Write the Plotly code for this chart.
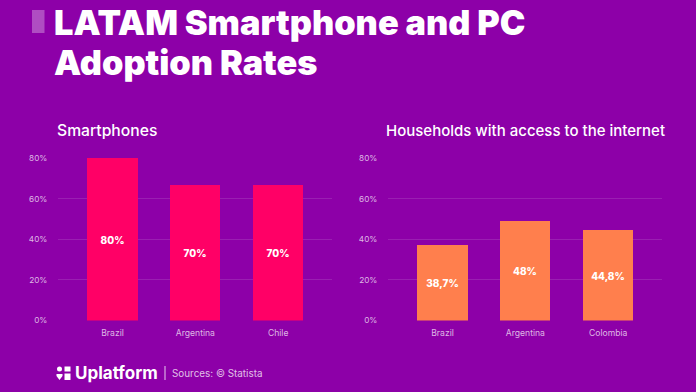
import plotly.graph_objects as go

left_title = "Smartphones"
left_categories = ["Brazil", "Argentina", "Chile"]
left_values = [80, 66.7, 66.7]
left_labels = ["80%", "70%", "70%"]

right_title = "Households with access to the internet"
right_categories = ["Brazil", "Argentina", "Colombia"]
right_values = [37.3, 48.9, 44.6]
right_labels = ["38,7%", "48%", "44,8%"]

y_ticks = [0, 20, 40, 60, 80]
y_tick_labels = ["0%", "20%", "40%", "60%", "80%"]

W, H = 696, 392
BG = "#8D00A8"
FONT = "Inter"
TICK = "rgba(255,255,255,0.72)"
GRID = "rgba(255,255,255,0.12)"
CLEAR = "rgba(0,0,0,0)"

fig = go.Figure()


def add_panel(cats, vals, labels, color, xa, ya):
    fig.add_trace(go.Bar(
        x=list(range(len(cats))), y=vals, text=labels, width=0.604,
        marker=dict(color=color, line=dict(width=0)),
        textposition="inside", insidetextanchor="middle", textangle=0,
        textfont=dict(family=FONT, size=10, color="white", weight=800),
        cliponaxis=False, xaxis=xa, yaxis=ya, showlegend=False,
    ))


add_panel(left_categories, left_values, left_labels, "#FF0066", "x", "y")
add_panel(right_categories, right_values, right_labels, "#FF7F4D", "x2", "y2")


def xaxis(x0, x1, center0, cats):
    step = 82.85
    return dict(
        domain=[x0 / W, x1 / W],
        range=[(x0 - center0) / step, (x1 - center0) / step],
        tickvals=list(range(len(cats))), ticktext=cats,
        tickfont=dict(family=FONT, size=8.6, color=TICK),
        showgrid=False, zeroline=False, showline=False,
        ticks="outside", ticklen=4, tickcolor=CLEAR, automargin=False,
        fixedrange=True,
    )


def yaxis(top, bottom):
    return dict(
        domain=[1 - bottom / H, 1 - top / H], range=[0, 80],
        tickvals=y_ticks, ticktext=y_tick_labels,
        tickfont=dict(family=FONT, size=8.2, color=TICK),
        showgrid=True, gridcolor=GRID, gridwidth=1,
        zeroline=False, showline=False,
        ticks="outside", ticklen=8, tickcolor=CLEAR, automargin=False,
        fixedrange=True, layer="below traces",
    )


def text(x, y, s, size, weight=400, color="white", anchor="left"):
    return dict(
        x=x / W, y=1 - y / H, xref="paper", yref="paper", text=s, showarrow=False,
        xanchor=anchor, yanchor="middle", xshift=0,
        font=dict(family=FONT, size=size, color=color, weight=weight),
    )


def rect(x0, y0, x1, y1, color):
    return dict(
        type="rect", xref="paper", yref="paper",
        x0=x0 / W, x1=x1 / W, y0=1 - y0 / H, y1=1 - y1 / H,
        fillcolor=color, line=dict(width=0), layer="above",
    )


fig.update_layout(
    width=W, height=H, margin=dict(l=0, r=0, t=0, b=0),
    paper_bgcolor=BG, plot_bgcolor=BG, bargap=0,
    xaxis=xaxis(58, 332, 112.5, left_categories),
    yaxis=yaxis(158, 320.5),
    xaxis2=dict(xaxis(388, 662, 442.5, right_categories), anchor="y2"),
    yaxis2=dict(yaxis(158, 320.5), anchor="x2"),
    annotations=[
        text(51.5, 22, "LATAM Smartphone and PC", 34.3, 900),
        text(51.5, 62, "Adoption Rates", 34.3, 900),
        text(54.5, 131, left_title, 15.7, 500),
        text(383.5, 131, right_title, 15, 500),
        text(73, 373, "Uplatform", 17, 700),
        text(170, 373, "Sources: © Statista", 9.9, 400, "rgba(255,255,255,0.75)"),
    ],
    shapes=[
        rect(32, 10, 44.5, 33, "rgba(255,255,255,0.3)"),
        rect(164.5, 366, 165.5, 380, "rgba(255,255,255,0.8)"),
        dict(type="circle", xref="paper", yref="paper", x0=57/W, x1=62/W, y0=1-371.5/H, y1=1-366.5/H,
             fillcolor="white", line=dict(width=0)),
        rect(64.5, 366.5, 70.5, 371.5, "white"),
        dict(type="path", xref="paper", yref="paper", fillcolor="white", line=dict(width=0),
             path=f"M {56.5/W} {1-374/H} L {62.5/W} {1-374/H} L {62.5/W} {1-376/H} L {59.5/W} {1-380/H} L {56.5/W} {1-376/H} Z"),
        rect(64.5, 373.5, 70.5, 380, "white"),
    ],
)

fig.write_html("out.html", config={"displayModeBar": False},
               post_script="document.body.style.margin='0';")
